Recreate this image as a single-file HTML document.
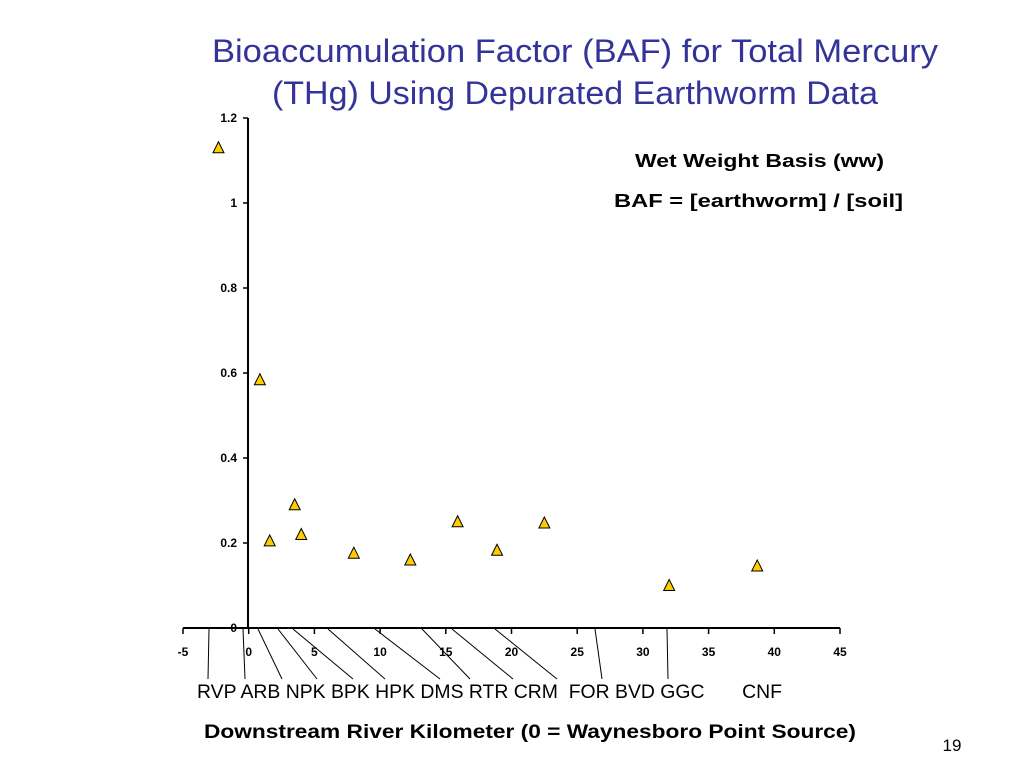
<!DOCTYPE html>
<html><head><meta charset="utf-8"><style>
body{margin:0;width:1024px;height:768px;background:#fff;overflow:hidden;font-family:"Liberation Sans",sans-serif}
</style></head><body>
<svg width="1024" height="768">
<text x="212" y="62" font-size="32" fill="#333399" textLength="726" lengthAdjust="spacingAndGlyphs">Bioaccumulation Factor (BAF)  for Total Mercury</text>
<text x="272" y="104" font-size="32" fill="#333399" textLength="606" lengthAdjust="spacingAndGlyphs">(THg) Using Depurated Earthworm Data</text>
<text x="635" y="167" font-size="18" font-weight="bold" textLength="249" lengthAdjust="spacingAndGlyphs">Wet Weight Basis (ww)</text>
<text x="614" y="207" font-size="18" font-weight="bold" textLength="289" lengthAdjust="spacingAndGlyphs">BAF  =  [earthworm] / [soil]</text>
<g id="axes"></g><g id="leaders"></g><g id="marks"></g>
<text x="204" y="738" font-size="19" font-weight="bold" textLength="652" lengthAdjust="spacingAndGlyphs">Downstream River Kilometer (0 = Waynesboro Point Source)</text>
<text x="952" y="751" text-anchor="middle" font-size="17">19</text>
</svg>
<script>
const xTicks=[-5,0,5,10,15,20,25,30,35,40,45];
const yTicks=[0,0.2,0.4,0.6,0.8,1,1.2];
const yTickLabels=["0","0.2","0.4","0.6","0.8","1","1.2"];
const xValues=[-2.3,0.85,1.6,3.5,4.0,8.0,12.3,15.9,18.9,22.5,32.0,38.7];
const bafValues=[1.13,0.584,0.205,0.29,0.22,0.176,0.16,0.25,0.183,0.247,0.10,0.146];
const siteLabels=["RVP","ARB","NPK","BPK","HPK","DMS","RTR","CRM","FOR","BVD","GGC","CNF"];
const labelX=[208,245,282,317,353,385,440,470,513,557,602,668];
const leaderTopX=[209,243,258,278,293,328,375,422,452,495,595,667];
const NS="http://www.w3.org/2000/svg";
const sx=v=>248.7+(v)*13.14, sy=v=>628-v*425;
function mk(t,a,p){const e=document.createElementNS(NS,t);for(const k in a)e.setAttribute(k,a[k]);p.appendChild(e);return e;}
const ax=document.getElementById('axes');
let l=mk('line',{x1:183,y1:628,x2:840,y2:628,stroke:'#000','stroke-width':2},ax);


l=mk('line',{x1:248,y1:118,x2:248,y2:628,stroke:'#000','stroke-width':2},ax);


xTicks.forEach(v=>{mk('line',{x1:sx(v),y1:628,x2:sx(v),y2:634,stroke:'#000','stroke-width':1.5},ax);
 const t=mk('text',{x:sx(v),y:656,'text-anchor':'middle','font-size':12,'font-weight':'bold'},ax);t.textContent=v;
 
 });
yTicks.forEach((v,i)=>{mk('line',{x1:243,y1:sy(v),x2:248,y2:sy(v),stroke:'#000','stroke-width':1.5},ax);
 const t=mk('text',{x:237,y:sy(v)+4,'text-anchor':'end','font-size':12,'font-weight':'bold'},ax);t.textContent=yTickLabels[i];
 
 });
const ld=document.getElementById('leaders');
siteLabels.forEach((s,i)=>{const ln=mk('line',{x1:leaderTopX[i],y1:629,x2:labelX[i],y2:679,stroke:'#000','stroke-width':1},ld);
 
 });
const lt=mk('text',{x:197,y:698,'font-size':19,textLength:585,lengthAdjust:'spacingAndGlyphs','xml:space':'preserve'},ld);
lt.setAttribute('style','white-space:pre');
lt.textContent=siteLabels.slice(0,8).join(' ')+'  '+siteLabels.slice(8,11).join(' ')+'       '+siteLabels[11];


const mg=document.getElementById('marks');
xValues.forEach((v,i)=>{const x=sx(v),y=sy(bafValues[i]);
 const p=mk('polygon',{points:`${x},${y-6} ${x-5.5},${y+5} ${x+5.5},${y+5}`,fill:'#ffcc00',stroke:'#000','stroke-width':1},mg);
 
 });
</script>
</body></html>
